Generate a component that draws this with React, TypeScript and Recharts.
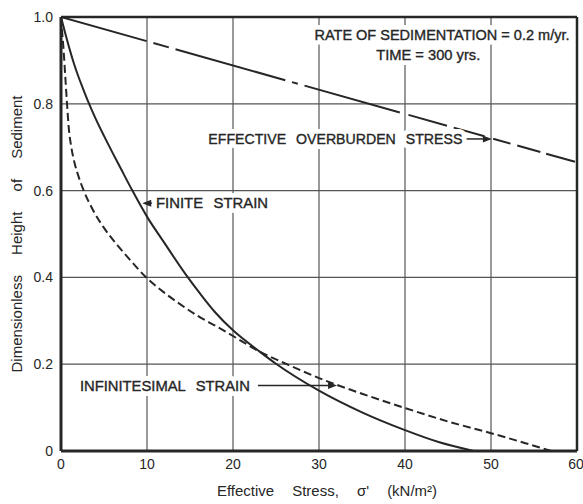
import React from 'react';
import { LineChart, Line, XAxis, YAxis, CartesianGrid, ReferenceLine, ReferenceDot } from 'recharts';

// effective stress (kN/m2) vs dimensionless height
const finiteStress = [0, 0.5, 1, 1.5, 2, 2.5, 3.1, 4, 5, 6, 7, 8.3, 10, 12, 14.5, 16.2, 18, 20, 23.1, 25, 30, 35, 40, 44, 48];
const finiteHeight = [1.0, 0.962, 0.926, 0.893, 0.864, 0.838, 0.808, 0.767, 0.726, 0.687, 0.649, 0.6, 0.54, 0.48, 0.407, 0.362, 0.318, 0.278, 0.229, 0.201, 0.139, 0.089, 0.048, 0.02, 0];

const infStress = [0, 0.15, 0.3, 0.5, 0.7, 0.9, 1.2, 1.6, 2, 2.6, 3.7, 5, 6.6, 8, 9.8, 12, 13.8, 16, 18, 20, 23.1, 26.5, 30, 35, 40, 45, 50, 54, 57];
const infHeight = [1.0, 0.962, 0.924, 0.862, 0.8, 0.745, 0.7, 0.662, 0.635, 0.602, 0.556, 0.514, 0.473, 0.441, 0.402, 0.365, 0.339, 0.31, 0.288, 0.265, 0.229, 0.198, 0.168, 0.132, 0.099, 0.068, 0.041, 0.018, 0];

const overburdenStress = [0, 60];
const overburdenHeight = [1.0, 0.665];

const xTicks = [0, 10, 20, 30, 40, 50, 60];
const yTicks = [0, 0.2, 0.4, 0.6, 0.8, 1.0];

const toRows = (xs: number[], ys: number[]) => xs.map((x, i) => ({ x, y: ys[i] }));
const finiteData = toRows(finiteStress, finiteHeight);
const infData = toRows(infStress, infHeight);
const overburdenData = toRows(overburdenStress, overburdenHeight);

const INK = '#262626';
const FONT = '"Liberation Sans", Arial, sans-serif';

// lettering with a white knock-out behind it, squeezed to the width it has in the figure
const Note = ({ cx, cy, text, w, ws = 6, anchor = 'middle' }: any) => {
  const common = {
    x: cx,
    y: cy,
    textAnchor: anchor,
    dominantBaseline: 'central',
    fontFamily: FONT,
    fontSize: 14,
    wordSpacing: ws,
    textLength: w,
    lengthAdjust: 'spacingAndGlyphs',
  } as any;
  return (
    <g>
      <text {...common} fill="#fff" stroke="#fff" strokeWidth={10} strokeLinejoin="round">
        {text}
      </text>
      <text {...common} fill={INK} stroke={INK} strokeWidth={0.35}>
        {text}
      </text>
    </g>
  );
};

const Head = ({ cx, cy, dir }: any) => {
  const s = dir === 'left' ? 1 : -1;
  const pts = `${cx},${cy} ${cx + s * 9},${cy - 3.5} ${cx + s * 9},${cy + 3.5}`;
  return <polygon points={pts} fill={INK} />;
};

const XLabel = ({ viewBox }: any) => (
  <text
    x={viewBox.x + viewBox.width / 2 + 8}
    y={viewBox.y + viewBox.height - 8}
    textAnchor="middle"
    fontFamily={FONT}
    fontSize={15}
    wordSpacing={14}
    textLength={220}
    lengthAdjust="spacingAndGlyphs"
    fill={INK}
  >
    Effective Stress, σ' (kN/m²)
  </text>
);

const YLabel = ({ viewBox }: any) => {
  const cx = 16;
  const cy = viewBox.y + viewBox.height / 2;
  return (
    <text
      x={cx}
      y={cy}
      transform={`rotate(-90 ${cx} ${cy})`}
      textAnchor="middle"
      dominantBaseline="central"
      fontFamily={FONT}
      fontSize={15}
      wordSpacing={16}
      textLength={277}
      lengthAdjust="spacingAndGlyphs"
      fill={INK}
    >
      Dimensionless Height of Sediment
    </text>
  );
};

export default function App() {
  return (
    <div style={{ position: 'absolute', left: 0, top: 0, width: 583, height: 504, background: '#fff' }}>
      <LineChart width={583} height={504} margin={{ top: 17, right: 6, left: 0, bottom: 0 }}>
        <CartesianGrid stroke="#555" strokeWidth={1.2} />
        <XAxis
          type="number"
          dataKey="x"
          domain={[0, 60]}
          ticks={xTicks}
          height={53}
          tickLine={false}
          axisLine={{ stroke: INK, strokeWidth: 3 }}
          tick={{ fontSize: 14, fill: INK, fontFamily: FONT }}
          allowDataOverflow
          label={<XLabel />}
        />
        <YAxis
          type="number"
          dataKey="y"
          domain={[0, 1]}
          ticks={yTicks}
          width={61}
          tickLine={false}
          axisLine={{ stroke: INK, strokeWidth: 3 }}
          tick={{ fontSize: 14, fill: INK, fontFamily: FONT }}
          tickFormatter={(v: number) => (v === 0 ? '0' : v.toFixed(1))}
          allowDataOverflow
          label={<YLabel />}
        />
        <ReferenceLine y={1} stroke={INK} strokeWidth={2.5} />
        <ReferenceLine x={60} stroke={INK} strokeWidth={2.5} />

        {/* annotations (drawn before the curves so the knock-outs sit under them) */}
        <ReferenceDot x={44.3} y={0.958} r={0} shape={(p: any) => <Note {...p} w={255} ws={0} text="RATE OF SEDIMENTATION = 0.2 m/yr." />} />
        <ReferenceDot x={42.7} y={0.912} r={0} shape={(p: any) => <Note {...p} w={104} ws={0} text="TIME = 300 yrs." />} />
        <ReferenceDot x={31.9} y={0.719} r={0} shape={(p: any) => <Note {...p} w={254} text="EFFECTIVE OVERBURDEN STRESS" />} />
        <ReferenceDot x={11.05} y={0.571} r={0} shape={(p: any) => <Note {...p} w={112} anchor="start" text="FINITE STRAIN" />} />
        <ReferenceDot x={2.2} y={0.149} r={0} shape={(p: any) => <Note {...p} w={170} anchor="start" text="INFINITESIMAL STRAIN" />} />

        <Line
          data={overburdenData}
          dataKey="y"
          type="linear"
          stroke={INK}
          strokeWidth={2}
          strokeDasharray="89 7 16 7 114 7 6 7 99 9 40 7 32 9 18 7 24 6 30"
          dot={false}
          isAnimationActive={false}
        />
        <Line
          data={finiteData}
          dataKey="y"
          type="monotone"
          stroke={INK}
          strokeWidth={2}
          dot={false}
          isAnimationActive={false}
        />
        <Line
          data={infData}
          dataKey="y"
          type="monotone"
          stroke={INK}
          strokeWidth={2}
          strokeDasharray="8 4"
          dot={false}
          isAnimationActive={false}
        />

        {/* leader arrows */}
        <ReferenceLine segment={[{ x: 46.8, y: 0.719 }, { x: 49.5, y: 0.719 }]} stroke={INK} strokeWidth={1.5} />
        <ReferenceDot x={50.1} y={0.719} r={0} shape={(p: any) => <Head {...p} dir="right" />} />
        <ReferenceLine segment={[{ x: 10.2, y: 0.571 }, { x: 11.0, y: 0.571 }]} stroke={INK} strokeWidth={1.5} />
        <ReferenceDot x={9.45} y={0.571} r={0} shape={(p: any) => <Head {...p} dir="left" />} />
        <ReferenceLine segment={[{ x: 22.9, y: 0.151 }, { x: 31.2, y: 0.151 }]} stroke={INK} strokeWidth={1.5} />
        <ReferenceDot x={32.1} y={0.151} r={0} shape={(p: any) => <Head {...p} dir="right" />} />
      </LineChart>
    </div>
  );
}
